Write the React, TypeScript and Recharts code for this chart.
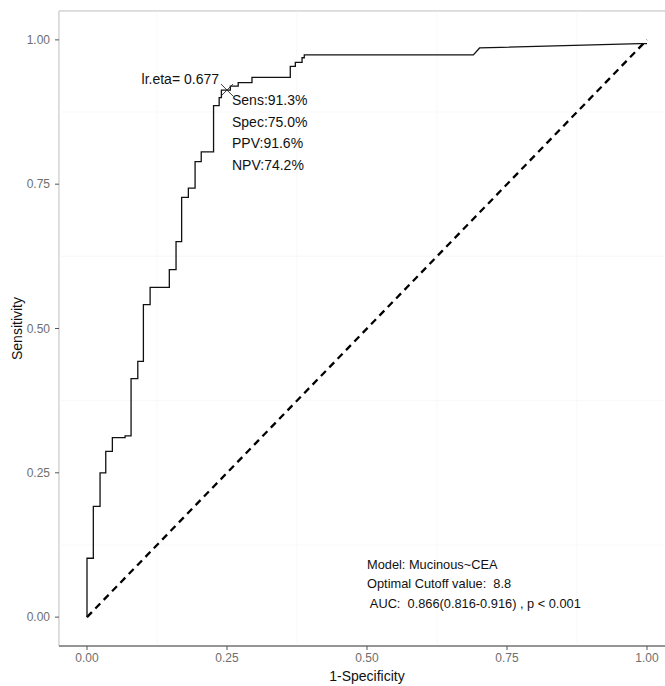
import React from "react";
import {
  ComposedChart,
  Line,
  Scatter,
  XAxis,
  YAxis,
  CartesianGrid,
  ReferenceLine,
  ReferenceArea,
} from "recharts";

// ROC curve corners: false positive rate (1 - specificity) and sensitivity
const rocFpr = [
  0, 0, 0.0113, 0.0113, 0.0233, 0.0233, 0.0335, 0.0335, 0.0453, 0.0453, 0.068,
  0.068, 0.0787, 0.0787, 0.0907, 0.0907, 0.1007, 0.1007, 0.1127, 0.1127, 0.147,
  0.147, 0.159, 0.159, 0.169, 0.169, 0.181, 0.181, 0.193, 0.193, 0.204, 0.204,
  0.226, 0.226, 0.236, 0.236, 0.24, 0.24, 0.256, 0.256, 0.27, 0.27, 0.2946,
  0.2946, 0.363, 0.363, 0.372, 0.372, 0.384, 0.384, 0.388, 0.388, 0.69, 0.701,
  0.739, 0.987, 1,
];
const rocTpr = [
  0, 0.102, 0.102, 0.192, 0.192, 0.25, 0.25, 0.287, 0.287, 0.311, 0.311, 0.314,
  0.314, 0.413, 0.413, 0.443, 0.443, 0.5415, 0.5415, 0.5714, 0.5714, 0.602,
  0.602, 0.6505, 0.6505, 0.727, 0.727, 0.743, 0.743, 0.789, 0.789, 0.806, 0.806,
  0.886, 0.886, 0.9, 0.9, 0.913, 0.913, 0.92, 0.92, 0.926, 0.926, 0.935, 0.935,
  0.954, 0.954, 0.961, 0.961, 0.969, 0.969, 0.974, 0.974, 0.986, 0.987, 0.9935,
  0.9935, 1,
];

// chance line
const chanceX = [0, 1];
const chanceY = [0, 1];

// optimal cutoff point
const cutoffSpecificity = 0.75;
const cutoffSensitivity = 0.913;
const cutoffLabel = "lr.eta= 0.677";
const cutoffStats = ["Sens:91.3%", "Spec:75.0%", "PPV:91.6%", "NPV:74.2%"];

// model summary block anchor and lines
const summaryAnchor = { x: 0.5, y: 0.092 };
const summaryLines = [
  "Model: Mucinous~CEA",
  "Optimal Cutoff value:  8.8",
  " AUC:  0.866(0.816-0.916) , p < 0.001",
];

const axisTicks = [0, 0.25, 0.5, 0.75, 1];
const minorTicks = [0.125, 0.375, 0.625, 0.875];
const tickLabels = ["0.00", "0.25", "0.50", "0.75", "1.00"];

const rocData = rocFpr.map((x, i) => ({ x, y: rocTpr[i] }));
const chanceData = chanceX.map((x, i) => ({ x, y: chanceY[i] }));
const cutoffData = [{ x: 1 - cutoffSpecificity, y: cutoffSensitivity }];
const summaryData = [summaryAnchor];

const FONT = "'Liberation Sans', Arial, Helvetica, sans-serif";

const fmtTick = (v: number) => {
  const i = axisTicks.indexOf(v);
  return i >= 0 ? tickLabels[i] : String(v);
};

const CutoffMark = (props: any) => {
  const { cx, cy } = props;
  const s = 6;
  return (
    <g>
      <line x1={cx - s} y1={cy - s} x2={cx + s} y2={cy + s} stroke="#222" strokeWidth={0.9} />
      <line x1={cx - s} y1={cy + s} x2={cx + s} y2={cy - s} stroke="#222" strokeWidth={0.9} />
      <text
        x={cx - 8}
        y={cy - 6}
        textAnchor="end"
        fontFamily={FONT}
        fontSize={14}
        fill="#111"
      >
        {cutoffLabel}
      </text>
      {cutoffStats.map((t, i) => (
        <text
          key={t}
          x={cx + 5}
          y={cy + 15 + i * 21.6}
          fontFamily={FONT}
          fontSize={14}
          fill="#111"
        >
          {t}
        </text>
      ))}
    </g>
  );
};

const SummaryBlock = (props: any) => {
  const { cx, cy } = props;
  return (
    <g>
      {summaryLines.map((t, i) => (
        <text
          key={i}
          x={cx}
          y={cy + 4.5 + i * 19.5}
          fontFamily={FONT}
          fontSize={12.8}
          fill="#111"
          style={{ whiteSpace: "pre" }}
        >
          {t}
        </text>
      ))}
    </g>
  );
};

const YTitle = (props: any) => {
  const vb = props.viewBox || { x: 0, y: 11, width: 59, height: 635 };
  const x = vb.x + 17;
  const y = vb.y + vb.height / 2;
  return (
    <text
      x={x}
      y={y}
      transform={`rotate(-90, ${x}, ${y})`}
      textAnchor="middle"
      dominantBaseline="central"
      fontFamily={FONT}
      fontSize={14}
      fill="#111"
    >
      Sensitivity
    </text>
  );
};

const XTitle = (props: any) => {
  const vb = props.viewBox || { x: 59, y: 646, width: 616, height: 40 };
  return (
    <text
      x={vb.x + vb.width / 2}
      y={vb.y + 35}
      textAnchor="middle"
      fontFamily={FONT}
      fontSize={14}
      fill="#111"
    >
      1-Specificity
    </text>
  );
};

export default function App() {
  return (
    <div
      style={{
        position: "absolute",
        left: 0,
        top: 0,
        width: 665,
        height: 686,
        overflow: "hidden",
        background: "#fff",
      }}
    >
      <ComposedChart
        width={676}
        height={686}
        margin={{ top: 11, right: 1, bottom: 0, left: 0 }}
      >
        <ReferenceArea
          x1={-0.05}
          x2={1.05}
          y1={-0.05}
          y2={1.05}
          fill="#fff"
          fillOpacity={1}
          stroke="none"
          ifOverflow="visible"
        />
        {minorTicks.map((v) => (
          <ReferenceLine key={"mx" + v} x={v} stroke="#f3f3f3" strokeWidth={0.6} />
        ))}
        {minorTicks.map((v) => (
          <ReferenceLine key={"my" + v} y={v} stroke="#f3f3f3" strokeWidth={0.6} />
        ))}
        <CartesianGrid stroke="#e6e6e6" strokeWidth={1.1} />
        <ReferenceArea
          x1={-0.05}
          x2={1.05}
          y1={-0.05}
          y2={1.05}
          fill="none"
          stroke="#c4c4c4"
          strokeWidth={1}
          ifOverflow="visible"
        />
        <XAxis
          type="number"
          dataKey="x"
          domain={[-0.05, 1.05]}
          ticks={axisTicks}
          tickFormatter={fmtTick}
          allowDataOverflow
          height={40}
          tickSize={4}
          tickMargin={3}
          axisLine={{ stroke: "#7d7d7d", strokeWidth: 1.3 }}
          tickLine={{ stroke: "#555" }}
          tick={{ fill: "#6e6e6e", fontSize: 12, fontFamily: FONT }}
          label={<XTitle />}
        />
        <YAxis
          type="number"
          dataKey="y"
          domain={[-0.05, 1.05]}
          ticks={axisTicks}
          tickFormatter={fmtTick}
          allowDataOverflow
          width={59}
          tickSize={4}
          tickMargin={5}
          axisLine={false}
          tickLine={{ stroke: "#555" }}
          tick={{ fill: "#6e6e6e", fontSize: 12, fontFamily: FONT }}
          label={<YTitle />}
        />
        <Line
          data={chanceData}
          dataKey="y"
          type="linear"
          stroke="#000"
          strokeWidth={2.3}
          strokeDasharray="7 5"
          dot={false}
          isAnimationActive={false}
        />
        <Line
          data={rocData}
          dataKey="y"
          type="linear"
          stroke="#111"
          strokeWidth={1.3}
          dot={false}
          isAnimationActive={false}
        />
        <Scatter
          data={cutoffData}
          dataKey="y"
          shape={<CutoffMark />}
          isAnimationActive={false}
        />
        <Scatter
          data={summaryData}
          dataKey="y"
          shape={<SummaryBlock />}
          isAnimationActive={false}
        />
      </ComposedChart>
    </div>
  );
}
